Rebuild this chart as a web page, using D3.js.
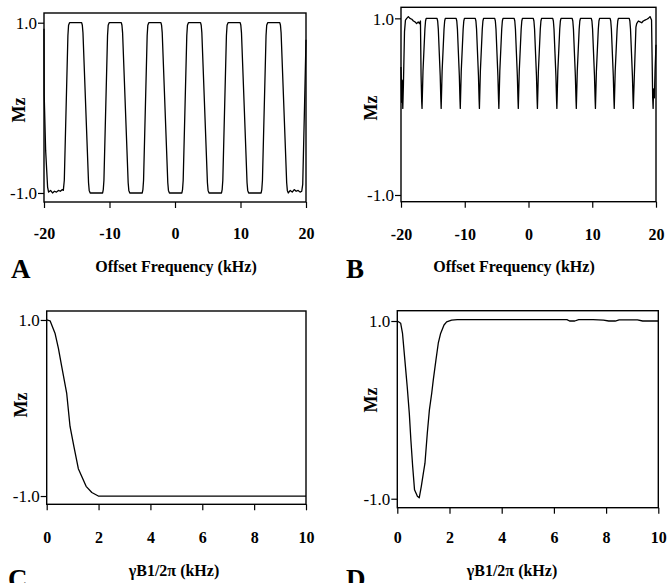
<!DOCTYPE html>
<html><head><meta charset="utf-8">
<script src="https://cdn.jsdelivr.net/npm/d3@7"></script>
<style>
body{margin:0;background:#fff;}
svg{display:block;}
text{font-family:"Liberation Serif","Times New Roman",serif;fill:#000;}
</style>
</head><body>
<svg id="chart" width="670" height="583"></svg>
<script>
// ---- tick values / labels ----
const freqTicks = [-20, -10, 0, 10, 20];
const freqTickLabels = ["-20", "-10", "0", "10", "20"];
const b1Ticks = [0, 2, 4, 6, 8, 10];
const b1TickLabels = ["0", "2", "4", "6", "8", "10"];
const mzTicks = [-1, 1];
const mzTickLabels = ["-1.0", "1.0"];

// ---- Panel A: Mz vs offset frequency (kHz) ----
const freqA = [-20.0,-19.97,-19.75,-19.45,-19.3,-19.0,-18.7,-18.4,-18.1,-17.8,-17.5,-17.2,
  -17.05,-16.9,-16.35,-16.25,-16.1,-14.25,-14.15,-14.05,-13.2,-13.1,-12.95,
  -11.05,-10.95,-10.85,-10.3,-10.2,-10.05,-8.2,-8.1,-8.0,-7.15,-7.05,-6.9,
  -5.0,-4.9,-4.8,-4.25,-4.15,-4.0,-2.15,-2.05,-1.95,-1.1,-1.0,-0.85,
  1.05,1.15,1.25,1.8,1.9,2.05,3.9,4.0,4.1,4.95,5.05,5.2,
  7.1,7.2,7.3,7.85,7.95,8.1,9.95,10.05,10.15,11.0,11.1,11.25,
  13.15,13.25,13.35,13.9,14.0,14.15,16.0,16.1,16.2,17.05,17.15,17.3,
  17.6,17.9,18.2,18.5,18.8,19.1,19.35,19.5,19.8,20.0];
const mzA = [0.93,0.15,-0.5,-0.93,-0.99,-0.97,-1.0,-0.98,-0.99,-0.97,-0.98,-0.96,
  -0.97,-0.85,0.85,0.97,1.0,1.0,0.97,0.88,-0.88,-0.97,-1.0,
  -1.0,-0.96,-0.85,0.85,0.97,1.0,1.0,0.97,0.88,-0.88,-0.97,-1.0,
  -1.0,-0.96,-0.85,0.85,0.97,1.0,1.0,0.97,0.88,-0.88,-0.97,-1.0,
  -1.0,-0.96,-0.85,0.85,0.97,1.0,1.0,0.97,0.88,-0.88,-0.97,-1.0,
  -1.0,-0.96,-0.85,0.85,0.97,1.0,1.0,0.97,0.88,-0.88,-0.97,-1.0,
  -1.0,-0.96,-0.85,0.85,0.97,1.0,1.0,0.97,0.88,-0.88,-0.97,-1.0,
  -0.97,-0.99,-0.96,-0.98,-0.97,-0.99,-0.98,-0.9,0.1,0.8];

// ---- Panel B: Mz vs offset frequency (kHz) ----
const freqB = [-20.0,-19.9,-19.82,-19.72,-19.62,-19.45,-19.3,-19.1,-18.85,-18.6,-18.3,-18.05,-17.8,-17.55,-17.3,-17.1,
  -16.95,-16.85,-16.75,-16.7,-16.65,-16.55,-16.25,-16.15,-16.05,
  -14.35,-14.25,-14.15,-13.85,-13.75,-13.7,-13.65,-13.55,-13.25,-13.15,-13.05,
  -11.35,-11.25,-11.15,-10.85,-10.75,-10.7,-10.65,-10.55,-10.25,-10.15,-10.05,
  -8.35,-8.25,-8.15,-7.85,-7.75,-7.7,-7.65,-7.55,-7.25,-7.15,-7.05,
  -5.3,-5.2,-5.1,-4.8,-4.7,-4.65,-4.6,-4.5,-4.2,-4.1,-4.0,
  -2.25,-2.15,-2.05,-1.75,-1.65,-1.6,-1.55,-1.45,-1.15,-1.05,-0.95,
  0.75,0.85,0.95,1.25,1.35,1.4,1.45,1.55,1.85,1.95,2.05,
  3.8,3.9,4.0,4.3,4.4,4.45,4.5,4.6,4.9,5.0,5.1,
  6.85,6.95,7.05,7.35,7.45,7.5,7.55,7.65,7.95,8.05,8.15,
  9.85,9.95,10.05,10.35,10.45,10.5,10.55,10.65,10.95,11.05,11.15,
  12.8,12.9,13.0,13.3,13.4,13.45,13.5,13.6,13.9,14.0,14.1,
  15.8,15.9,16.0,16.3,16.4,16.45,16.5,16.6,16.85,16.97,
  17.23,17.5,17.76,18.0,18.27,18.55,18.8,19.06,19.3,19.38,19.48,19.55,19.62,19.75,19.85,20.0];
const mzB = [0.45,0.05,0.3,-0.02,0.25,0.85,0.98,1.0,1.02,1.0,0.99,0.97,0.96,0.94,0.96,0.94,
  0.97,0.35,0.05,-0.02,0.12,0.4,0.88,0.97,1.0,
  1.0,0.97,0.88,0.35,0.08,-0.02,0.12,0.4,0.88,0.97,1.0,
  1.0,0.97,0.88,0.35,0.08,-0.02,0.12,0.4,0.88,0.97,1.0,
  1.0,0.97,0.88,0.35,0.08,-0.02,0.12,0.4,0.88,0.97,1.0,
  1.0,0.97,0.88,0.35,0.08,-0.02,0.12,0.4,0.88,0.97,1.0,
  1.0,0.97,0.88,0.35,0.08,-0.02,0.12,0.4,0.88,0.97,1.0,
  1.0,0.97,0.88,0.35,0.08,-0.02,0.12,0.4,0.88,0.97,1.0,
  1.0,0.97,0.88,0.35,0.08,-0.02,0.12,0.4,0.88,0.97,1.0,
  1.0,0.97,0.88,0.35,0.08,-0.02,0.12,0.4,0.88,0.97,1.0,
  1.0,0.97,0.88,0.35,0.08,-0.02,0.12,0.4,0.88,0.97,1.0,
  1.0,0.97,0.88,0.35,0.08,-0.02,0.12,0.4,0.88,0.97,1.0,
  1.0,0.97,0.88,0.35,0.08,-0.02,0.12,0.35,0.9,0.94,
  0.97,0.96,0.95,0.97,0.98,0.99,1.0,1.02,0.98,0.6,0.1,-0.02,0.2,0.1,0.4,0.7];

// ---- Panel C: Mz vs gammaB1/2pi (kHz) ----
const b1C = [0, 0.13, 0.32, 0.45, 0.58, 0.77, 0.9, 1.05, 1.22, 1.52, 1.74, 1.99, 10];
const mzC = [1.0, 0.99, 0.85, 0.68, 0.47, 0.17, -0.21, -0.44, -0.69, -0.89, -0.96, -1.0, -1.0];

// ---- Panel D: Mz vs gammaB1/2pi (kHz) ----
const b1D = [0, 0.13, 0.2, 0.29, 0.38, 0.46, 0.52, 0.59, 0.66, 0.77, 0.84, 0.92, 1.0, 1.06, 1.15,
  1.23, 1.32, 1.38, 1.48, 1.57, 1.66, 1.79, 1.89, 2.08, 2.3, 6.5, 6.6, 6.8, 6.95, 7.5, 7.9, 8.1,
  8.35, 8.5, 9.2, 9.4, 10];
const mzD = [1.0, 0.974, 0.86, 0.56, 0.26, -0.04, -0.34, -0.64, -0.9, -0.973, -0.99, -0.86, -0.71, -0.6, -0.26,
  0.0, 0.19, 0.34, 0.56, 0.75, 0.86, 0.955, 0.99, 1.01, 1.015, 1.015, 1.0, 1.0, 1.015, 1.015, 1.01, 1.0,
  1.0, 1.012, 1.012, 1.0, 1.0];

// ---- layout (positions/styles) ----
const panels = [
  {xs: freqA, ys: mzA, ticks: freqTicks, labels: freqTickLabels, xdom: [-20, 20], ydom: [-1.106, 1.114],
   box: [44, 306, 13, 202], letter: "A", lx: 11, ly: 278, title: "Offset Frequency (kHz)", tx: 176, ty: 272,
   tickBase: 239, mzx: 25, mzy: 110},
  {xs: freqB, ys: mzB, ticks: freqTicks, labels: freqTickLabels, xdom: [-20, 20], ydom: [-1.076, 1.125],
   box: [401, 656, 7.3, 201.7], letter: "B", lx: 346, ly: 278, title: "Offset Frequency (kHz)", tx: 514, ty: 272,
   tickBase: 240, mzx: 377, mzy: 108},
  {xs: b1C, ys: mzC, ticks: b1Ticks, labels: b1TickLabels, xdom: [0, 10], ydom: [-1.094, 1.102],
   box: [46.7, 306, 311, 504.3], letter: "C", lx: 8, ly: 588, title: "γB1/2π (kHz)", tx: 174, ty: 576,
   tickBase: 543, mzx: 27, mzy: 405},
  {xs: b1D, ys: mzD, ticks: b1Ticks, labels: b1TickLabels, xdom: [0, 10], ydom: [-1.101, 1.116],
   box: [397.3, 658.3, 310.7, 507.7], letter: "D", lx: 346, ly: 588, title: "γB1/2π (kHz)", tx: 512, ty: 576,
   tickBase: 543, mzx: 377, mzy: 400}
];

const svg = d3.select("#chart");

panels.forEach(p => {
  const [x0, x1, y0, y1] = p.box;
  const x = d3.scaleLinear().domain(p.xdom).range([x0, x1]);
  const y = d3.scaleLinear().domain(p.ydom).range([y1, y0]);
  const g = svg.append("g");

  // x axis ticks
  const xa = g.append("g").attr("transform", `translate(0,${y1})`)
    .call(d3.axisBottom(x).tickValues(p.ticks).tickSize(6).tickSizeOuter(0)
      .tickFormat((d, i) => p.labels[i]));
  xa.select(".domain").remove();
  xa.selectAll(".tick line").attr("stroke", "#000").attr("stroke-width", 1.2);
  xa.selectAll(".tick text").attr("y", p.tickBase - y1).attr("dy", 0)
    .style("font-family", '"Liberation Serif", serif').style("font-weight", "bold")
    .style("font-size", "16px").attr("fill", "#000");

  // y axis ticks
  const ya = g.append("g").attr("transform", `translate(${x0},0)`)
    .call(d3.axisLeft(y).tickValues(mzTicks).tickSize(6).tickSizeOuter(0).tickPadding(1)
      .tickFormat((d, i) => mzTickLabels[i]));
  ya.select(".domain").remove();
  ya.selectAll(".tick line").attr("stroke", "#000").attr("stroke-width", 1.2);
  ya.selectAll(".tick text").attr("dy", "0.35em")
    .style("font-family", '"Liberation Serif", serif').style("font-weight", "normal")
    .style("font-size", "17px").attr("fill", "#000");

  // curve
  const pts = p.xs.map((v, i) => [v, p.ys[i]]);
  g.append("path").datum(pts)
    .attr("fill", "none").attr("stroke", "#000").attr("stroke-width", 1.3)
    .attr("stroke-linejoin", "round")
    .attr("d", d3.line().x(d => x(d[0])).y(d => y(d[1])).curve(d3.curveLinear));

  // frame
  g.append("rect").attr("x", x0).attr("y", y0).attr("width", x1 - x0).attr("height", y1 - y0)
    .attr("fill", "none").attr("stroke", "#000").attr("stroke-width", 1.4);

  // Mz label
  g.append("text").attr("transform", `translate(${p.mzx},${p.mzy}) rotate(-90)`)
    .attr("text-anchor", "middle").style("font-weight", "bold").style("font-size", "18px").text("Mz");

  // axis title
  g.append("text").attr("x", p.tx).attr("y", p.ty).attr("text-anchor", "middle")
    .style("font-weight", "bold").style("font-size", "16px").text(p.title);

  // panel letter
  g.append("text").attr("x", p.lx).attr("y", p.ly)
    .style("font-weight", "bold").style("font-size", "27px").text(p.letter);
});
</script>
</body></html>
